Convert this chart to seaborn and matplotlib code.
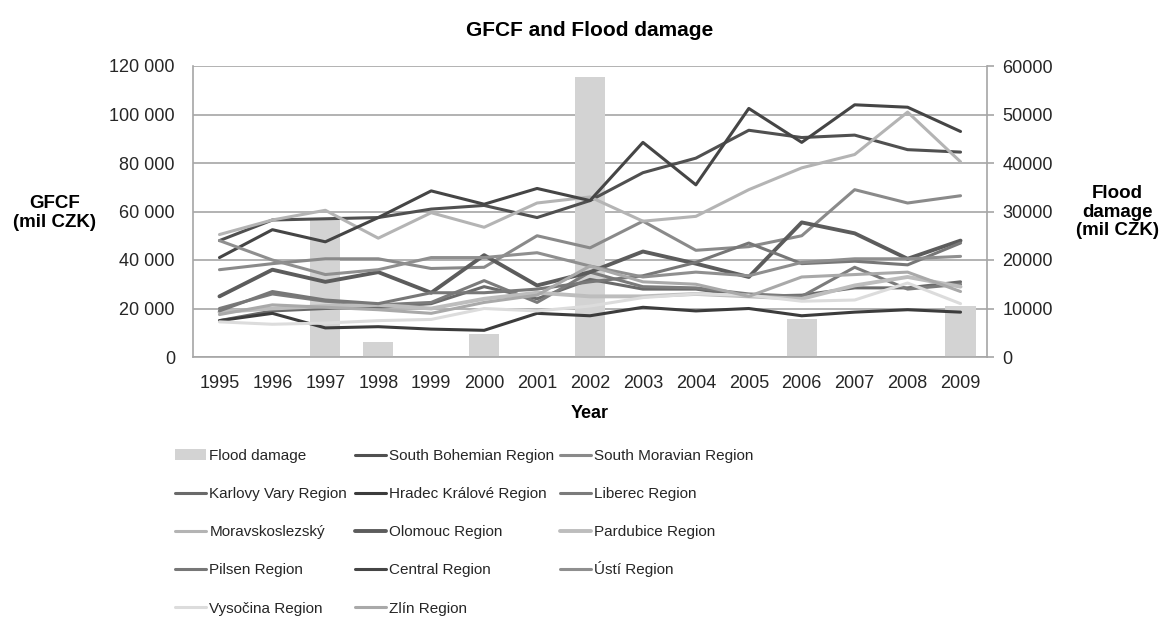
import numpy as np
import pandas as pd
import matplotlib
matplotlib.use("Agg")
import matplotlib.pyplot as plt
import seaborn as sns
from matplotlib.patches import Patch
from matplotlib.lines import Line2D
from matplotlib.ticker import FuncFormatter, MultipleLocator

# ---------------- data (mil CZK) ----------------
years = list(range(1995, 2010))

flood_years = [1997, 1998, 2000, 2002, 2006, 2009]
flood_damage = [28200, 3000, 4800, 57800, 7800, 10500]

south_bohemian = [48000, 56500, 57000, 57500, 61000, 62500, 57500, 64500, 76000, 82000, 93500, 90500, 91500, 85500, 84500]
south_moravian = [36000, 38500, 40500, 40500, 36500, 37000, 50000, 45000, 56000, 44000, 45500, 50000, 69000, 63500, 66500]
karlovy_vary = [15000, 19000, 20000, 20500, 22000, 29000, 24000, 32000, 28000, 28000, 25000, 25500, 28500, 28500, 31000]
hradec_kralove = [15000, 18000, 12000, 12500, 11500, 11000, 18000, 17000, 20500, 19000, 20000, 17000, 18500, 19500, 18500]
liberec = [20000, 26000, 23000, 21500, 22500, 31500, 22500, 35000, 29000, 28500, 26000, 25000, 37000, 28000, 30000]
moravskoslezsky = [50500, 56500, 60500, 49000, 59500, 53500, 63500, 66000, 56000, 58000, 69000, 78000, 83500, 101000, 80500]
olomouc = [25000, 36000, 31000, 35000, 26500, 42000, 29500, 35000, 43500, 38500, 33000, 55500, 51000, 40500, 48000]
pardubice = [18500, 20000, 21000, 21500, 20000, 24000, 26500, 25000, 25000, 26000, 25000, 24000, 29500, 33000, 29000]
pilsen = [19000, 27000, 23500, 22000, 26500, 26500, 28000, 31000, 33500, 39000, 47000, 38500, 39500, 38000, 47000]
central = [41000, 52500, 47500, 57500, 68500, 63000, 69500, 64500, 88500, 71000, 102500, 88500, 104000, 103000, 93000]
usti = [48000, 40000, 34000, 36000, 41000, 41000, 43000, 37500, 33000, 35000, 33500, 39000, 40500, 40500, 41500]
vysocina = [14500, 13500, 14000, 15000, 15500, 20000, 19000, 21000, 24500, 26000, 25500, 23000, 23500, 30500, 22000]
zlin = [17500, 21500, 20500, 19500, 18000, 22500, 25500, 37500, 31000, 30000, 25000, 33000, 34000, 35000, 27000]

regions = ["South Bohemian Region", "South Moravian Region", "Karlovy Vary Region",
           "Hradec Králové Region", "Liberec Region", "Moravskoslezský",
           "Olomouc Region", "Pardubice Region", "Pilsen Region", "Central Region",
           "Ústí Region", "Vysočina Region", "Zlín Region"]
series = [south_bohemian, south_moravian, karlovy_vary, hradec_kralove, liberec,
          moravskoslezsky, olomouc, pardubice, pilsen, central, usti, vysocina, zlin]

colors = {
    "South Bohemian Region": "#505050",
    "South Moravian Region": "#8a8a8a",
    "Karlovy Vary Region": "#6a6a6a",
    "Hradec Králové Region": "#3c3c3c",
    "Liberec Region": "#7b7b7b",
    "Moravskoslezský": "#b4b4b4",
    "Olomouc Region": "#5c5c5c",
    "Pardubice Region": "#bdbdbd",
    "Pilsen Region": "#777777",
    "Central Region": "#454545",
    "Ústí Region": "#8f8f8f",
    "Vysočina Region": "#dcdcdc",
    "Zlín Region": "#a9a9a9",
}
widths = {r: 2.2 for r in regions}
widths["Olomouc Region"] = 2.8
widths["Pardubice Region"] = 2.8

df = pd.DataFrame({
    "Year": np.tile(years, len(regions)),
    "GFCF": np.concatenate([np.array(s, dtype=float) for s in series]),
    "Region": np.repeat(regions, len(years)),
})
flood_df = pd.DataFrame({"Year": flood_years, "Flood": flood_damage})

# ---------------- style ----------------
sns.set_style("white")
plt.rcParams["font.family"] = ["Liberation Sans", "DejaVu Sans"]
TXT = "#262626"
GRID = "#a6a6a6"

W, H = 1166, 617
fig = plt.figure(figsize=(W / 100, H / 100), dpi=100)
ax = fig.add_axes([193 / W, 1 - 357 / H, (987 - 193) / W, (357 - 66) / H])
ax2 = ax.twinx()

# bars on secondary axis (behind lines)
sns.barplot(data=flood_df, x="Year", y="Flood", native_scale=True, width=0.57,
            color="#d3d3d3", saturation=1, linewidth=0, ax=ax2, zorder=2)
ax2.set_ylim(0, 60000)
ax2.yaxis.set_major_locator(MultipleLocator(10000))
ax2.yaxis.grid(True, color=GRID, linewidth=1.2, zorder=0)
ax2.set_axisbelow(True)

# lines on primary axis
sns.lineplot(data=df, x="Year", y="GFCF", hue="Region", size="Region",
             hue_order=regions, palette=colors, sizes=widths, ax=ax, legend=False)
ax.set_ylim(0, 120000)
ax.yaxis.set_major_locator(MultipleLocator(20000))
ax.yaxis.set_major_formatter(FuncFormatter(lambda v, p: f"{int(v):,}".replace(",", " ")))
ax.set_xlim(1994.5, 2009.5)
ax.set_xticks(years)
ax.set_xticklabels([str(y) for y in years])

ax.set_zorder(ax2.get_zorder() + 1)
ax.patch.set_visible(False)

ax.spines["top"].set_visible(False)
for sp in ["left", "bottom", "right"]:
    ax.spines[sp].set_color(GRID)
    ax.spines[sp].set_linewidth(1.2)
for sp in ax2.spines.values():
    sp.set_visible(False)

ax.tick_params(axis="y", length=0, pad=13, labelsize=13, labelcolor=TXT)
ax.tick_params(axis="x", length=0, pad=13, labelsize=13, labelcolor=TXT)
ax2.tick_params(axis="y", length=5, width=1.2, color=GRID, pad=6, labelsize=13, labelcolor=TXT)
ax2.tick_params(axis="x", length=0)

ax.set_xlabel("Year", fontsize=13, fontweight="bold", color="black")
ax.xaxis.set_label_coords(0.5, -0.165)
ax.set_ylabel("GFCF\n(mil CZK)", rotation=0, fontsize=13.5, fontweight="bold",
              color="black", ha="center", va="center", linespacing=1.1)
ax.yaxis.set_label_coords(-0.174, 0.495)
ax2.set_ylabel("Flood\ndamage\n(mil CZK)", rotation=0, fontsize=13.5, fontweight="bold",
               color="black", ha="center", va="center", linespacing=1.1)
ax2.yaxis.set_label_coords(1.164, 0.498)

fig.text(590 / W, 1 - 31 / H, "GFCF and Flood damage", ha="center", va="center",
         fontsize=15, fontweight="bold", color="black")

# ---------------- legend (three columns, row-major order) ----------------
def line_handle(name):
    return Line2D([], [], color=colors[name], linewidth=widths[name])

col1 = [(Patch(facecolor="#d3d3d3", edgecolor="none"), "Flood damage")] + \
       [(line_handle(n), n) for n in ["Karlovy Vary Region", "Moravskoslezský", "Pilsen Region", "Vysočina Region"]]
col2 = [(line_handle(n), n) for n in ["South Bohemian Region", "Hradec Králové Region", "Olomouc Region",
                                     "Central Region", "Zlín Region"]]
col3 = [(line_handle(n), n) for n in ["South Moravian Region", "Liberec Region", "Pardubice Region"]]
col3b = [(line_handle("Ústí Region"), "Ústí Region")]

leg_font = {"family": ["Liberation Sans", "DejaVu Sans"], "size": 11}
for x0, y0, col in [(175, 449, col1), (355, 449, col2), (560, 449, col3), (560, 561, col3b)]:
    fig.legend([h for h, _ in col], [t for _, t in col], loc="upper left",
               bbox_to_anchor=(x0 / W, 1 - y0 / H), borderaxespad=0, borderpad=0,
               frameon=False, prop=leg_font, handlelength=2.0, handletextpad=0.25,
               labelspacing=1.58, labelcolor=TXT)

fig.savefig("out.png", dpi=100, facecolor="white")
